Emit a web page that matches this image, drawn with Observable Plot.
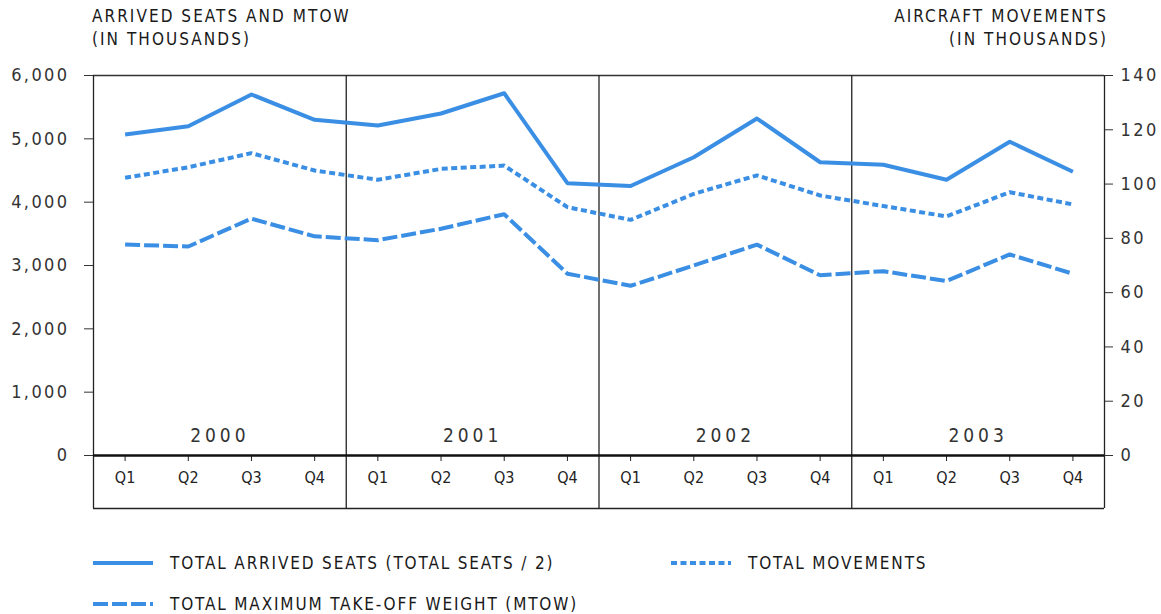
<!DOCTYPE html>
<html><head><meta charset="utf-8">
<script src="https://cdn.jsdelivr.net/npm/d3@7"></script>
<script src="https://cdn.jsdelivr.net/npm/@observablehq/plot@0.6"></script>
<style>
body{margin:0;background:#fff;}
#wrap{position:relative;width:1161px;height:614px;overflow:hidden;font-family:"DejaVu Sans Condensed","Liberation Sans",Arial,sans-serif;}
.t{position:absolute;font-size:17px;letter-spacing:2.05px;color:#1a1a1a;line-height:23px;white-space:nowrap;}
.lg{position:absolute;font-size:17px;letter-spacing:1.85px;color:#1a1a1a;white-space:nowrap;line-height:20px;}
.lg svg{position:absolute;}
#chart{position:absolute;left:0;top:0;}
#chart svg text{font-family:"DejaVu Sans Condensed","Liberation Sans",Arial,sans-serif;}
g[aria-label="y-axis tick label"] text{letter-spacing:2.4px;}
</style></head><body><div id="wrap">
<div class="t" style="left:92px;top:5px">ARRIVED SEATS AND MTOW</div>
<div class="t" style="left:92px;top:28px">(IN THOUSANDS)</div>
<div class="t" style="right:53px;top:5px;text-align:right">AIRCRAFT MOVEMENTS</div>
<div class="t" style="right:53px;top:28px;text-align:right">(IN THOUSANDS)</div>
<div id="chart"></div>
<div id="legend"></div>
</div>
<script>
const years = ["2000", "2001", "2002", "2003"];
const quarters = ["Q1", "Q2", "Q3", "Q4"];
const seats = [5070, 5200, 5700, 5300, 5210, 5400, 5720, 4300, 4255, 4710, 5320, 4630, 4590, 4355, 4955, 4480];
const movements = [102.3, 106.2, 111.4, 105.0, 101.6, 105.6, 106.8, 91.5, 86.8, 96.4, 103.2, 95.8, 91.9, 88.1, 97.0, 92.5];
const mtow = [3330, 3300, 3740, 3460, 3400, 3580, 3810, 2870, 2680, 3000, 3330, 2845, 2910, 2755, 3175, 2870];
const leftTicks = [0, 1000, 2000, 3000, 4000, 5000, 6000];
const rightTicks = [0, 20, 40, 60, 80, 100, 120, 140];
const seriesNames = ["TOTAL ARRIVED SEATS (TOTAL SEATS / 2)", "TOTAL MOVEMENTS", "TOTAL MAXIMUM TAKE-OFF WEIGHT (MTOW)"];

const blue = "#3a8fe4";
const leftMax = 6000, rightMax = 140;
const k = leftMax / rightMax;
const nQ = years.length * quarters.length;
const dotDash = "6,3.5", longDash = "15,4";

const periods = d3.range(nQ).map(i => ({i, pos: i + 0.5, year: years[Math.floor(i / 4)], q: quarters[i % 4]}));
const seatData = periods.map((p, i) => ({...p, v: seats[i]}));
const movData = periods.map((p, i) => ({...p, v: movements[i] * k}));
const mtowData = periods.map((p, i) => ({...p, v: mtow[i]}));
const boundaries = d3.range(years.length + 1).map(j => j * 4);
const yearCenters = years.map((y, j) => ({y, pos: j * 4 + 2}));

const chart = Plot.plot({
  width: 1161, height: 614,
  marginTop: 75, marginBottom: 159, marginLeft: 93, marginRight: 57,
  x: {domain: [0, nQ], axis: null},
  y: {domain: [0, leftMax], axis: null},
  style: {fontSize: "17px", color: "#333", background: "transparent", overflow: "visible"},
  marks: [
    Plot.ruleY([leftMax], {stroke: "#333", strokeWidth: 1.5}),
    Plot.ruleX(boundaries, {y1: leftMax, y2: 0, insetBottom: -53, stroke: "#222", strokeWidth: 1.3}),
    Plot.ruleY([0], {dy: 53, stroke: "#222", strokeWidth: 1.3}),
    Plot.axisY(leftTicks, {anchor: "left", tickSize: 9, tickPadding: 15, tickFormat: d3.format(","), label: null, stroke: "#333", fill: "#333", fontSize: 18}),
    Plot.axisY(rightTicks.map(v => v * k), {anchor: "right", tickSize: 8, tickPadding: 8, tickFormat: v => d3.format(",")(Math.round(v / k)), label: null, stroke: "#333", fill: "#333", fontSize: 18}),
    Plot.axisX(periods.map(p => p.pos), {anchor: "bottom", tickSize: 6, tickPadding: 10, tickFormat: v => quarters[Math.floor(v) % 4], label: null, stroke: "#222", fill: "#222", fontSize: 16}),
    Plot.ruleY([0], {stroke: "#111", strokeWidth: 2.6}),
    Plot.text(yearCenters, {x: "pos", y: () => 0, text: "y", dy: -20, fontSize: 19, fill: "#333"}),
    Plot.line(seatData, {x: "pos", y: "v", stroke: blue, strokeWidth: 4, strokeLinecap: "butt"}),
    Plot.line(movData, {x: "pos", y: "v", stroke: blue, strokeWidth: 4, strokeLinecap: "butt", strokeLinejoin: "miter", strokeDasharray: dotDash}),
    Plot.line(mtowData, {x: "pos", y: "v", stroke: blue, strokeWidth: 4, strokeLinecap: "butt", strokeLinejoin: "miter", strokeDasharray: longDash})
  ]
});
chart.querySelectorAll('g[aria-label="text"] text').forEach(t => t.style.letterSpacing = "4px");
document.getElementById("chart").appendChild(chart);

const legendItems = [
  {name: seriesNames[0], dash: null, left: 93, top: 563, textLeft: 170},
  {name: seriesNames[1], dash: dotDash, left: 671, top: 563, textLeft: 748},
  {name: seriesNames[2], dash: longDash, left: 93, top: 604, textLeft: 170}
];
const legend = document.getElementById("legend");
legendItems.forEach(it => {
  const d = document.createElement("div");
  d.className = "lg";
  d.style.left = it.left + "px";
  d.style.top = (it.top - 10) + "px";
  d.innerHTML = `<svg width="62" height="8" style="left:0;top:6px"><line x1="0" x2="60" y1="4" y2="4" stroke="${blue}" stroke-width="4" ${it.dash ? `stroke-dasharray="${it.dash}"` : ""}/></svg><span style="position:absolute;left:${it.textLeft - it.left}px;top:0">${it.name}</span>`;
  legend.appendChild(d);
});
</script>
</body></html>
